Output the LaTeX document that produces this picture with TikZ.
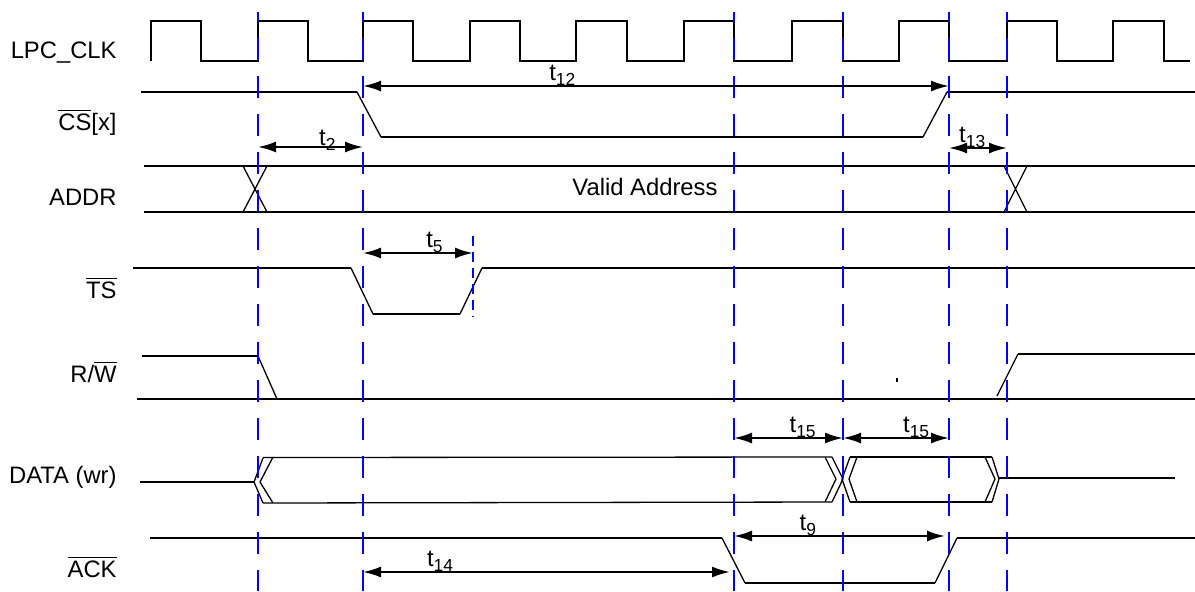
\documentclass[tikz,border=0pt]{standalone}
\usepackage{fontspec}
\setmainfont{Liberation Sans}
\usepackage{tikz}
\usetikzlibrary{arrows.meta}
\newcommand{\tsub}[1]{t\raisebox{-2.5pt}{\fontsize{8.7}{10}\selectfont #1}}

\begin{document}
\begin{tikzpicture}[x=0.5pt, y=-0.5pt, line join=miter,
    sig/.style = {line width=1pt},
    edge/.style = {line width=0.65pt},
    guide/.style = {blue, line width=1pt, dash pattern=on 11pt off 8pt, dash phase=6pt},
    span/.style = {line width=1pt, {Latex[length=9pt,width=5.5pt]}-{Latex[length=9pt,width=5.5pt]}},
    lbl/.style = {anchor=base east, inner sep=0pt, font=\fontsize{11.9}{14}\selectfont},
    tlbl/.style = {anchor=base, inner sep=0pt, yshift=3pt, font=\fontsize{11.9}{14}\selectfont}]

    \useasboundingbox (0, 0) rectangle (1195, 591);

    \node [lbl] (clk)  at (117, 58)  {LPC\_CLK};
    \node [lbl] (cs)   at (117, 130) {$\overline{\mbox{CS}}$[x]};
    \node [lbl] (addr) at (117, 205) {ADDR};
    \node [lbl] (ts)   at (117, 298) {$\overline{\mbox{TS}}$};
    \node [lbl] (rw)   at (117, 382) {R/$\overline{\mbox{W}}$};
    \node [lbl] (data) at (117, 483) {DATA (wr)};
    \node [lbl] (ack)  at (117, 577) {$\overline{\mbox{ACK}}$};
    \node [tlbl, yshift=-3pt] (valid) at (645, 195) {Valid Address};

    % clock
    \draw [sig] (151, 61) -- (151, 21) -- (201, 21) -- (201, 61) -- (258, 61) -- (258, 21) -- (308, 21) -- (308, 61)
        -- (363, 61) -- (363, 21) -- (413, 21) -- (413, 61) -- (470, 61) -- (470, 21) -- (520, 21) -- (520, 61)
        -- (576, 61) -- (576, 21) -- (627, 21) -- (627, 61) -- (684, 61) -- (684, 21) -- (734, 21) -- (734, 61)
        -- (792, 61) -- (792, 21) -- (843, 21) -- (843, 61) -- (899, 61) -- (899, 21) -- (949, 21) -- (949, 61)
        -- (1007, 61) -- (1007, 21) -- (1057, 21) -- (1057, 61) -- (1113, 61) -- (1113, 21) -- (1164, 21) -- (1164, 61)
        -- (1190, 61);

    % signals
    \draw [sig] (141, 92) -- (357, 92);
    \draw [edge] (357, 92) -- (381, 137);
    \draw [sig] (381, 137) -- (923, 137);
    \draw [edge] (923, 137) -- (947, 92);
    \draw [sig] (947, 92) -- (1195, 92);

    \draw [sig] (144, 166) -- (1195, 166);
    \draw [sig] (144, 212) -- (1195, 212);
    \draw [edge] (243, 166) -- (267, 212) (243, 212) -- (267, 166);
    \draw [edge] (1004, 166) -- (1027, 212) (1004, 212) -- (1027, 166);

    \draw [sig] (133, 268) -- (351, 268);
    \draw [edge] (351, 268) -- (373, 314);
    \draw [sig] (373, 314) -- (460, 314);
    \draw [edge] (460, 314) -- (482, 268);
    \draw [sig] (482, 268) -- (1195, 268);

    \draw [sig] (142, 356) -- (258, 356);
    \draw [edge] (258, 356) -- (277, 399);
    \draw [sig] (137, 399) -- (1195, 399);
    \draw [edge] (997, 396) -- (1018, 354);
    \draw [sig] (1018, 354) -- (1195, 354);
    \fill (896, 378) rectangle (898, 382);

    \draw [sig] (140, 482) -- (254, 482);
    \draw [edge] (263, 458) -- (254, 482) -- (263, 503);
    \draw [edge] (273, 457) -- (260, 482) -- (273, 503);
    \draw [edge] (263, 457.5) -- (832, 457) (263, 503) -- (832, 502);
    \draw [edge] (825, 457) -- (836, 479) -- (825, 502);
    \draw [edge] (832, 457) -- (843, 479) -- (832, 502);
    \draw [edge] (850, 457) -- (842, 479) -- (850, 502);
    \draw [edge] (857, 457) -- (849, 479) -- (857, 502);
    \draw [edge] (850, 457) -- (992, 457) (850, 502) -- (992, 502);
    \draw [edge] (985, 457) -- (995, 479) -- (985, 502);
    \draw [edge] (992, 457) -- (999, 479) -- (992, 502);
    \draw [sig] (999, 478) -- (1175, 478);

    \draw [sig] (150, 538) -- (722, 538);
    \draw [edge] (722, 538) -- (745, 583);
    \draw [sig] (745, 583) -- (935, 583);
    \draw [edge] (935, 583) -- (957, 538);
    \draw [sig] (957, 538) -- (1195, 538);

    % guides
    \draw [guide] (258, 12) -- (258, 591);
    \draw [guide] (363, 12) -- (363, 591);
    \draw [guide] (734, 12) -- (734, 591);
    \draw [guide] (843, 12) -- (843, 591);
    \draw [guide] (949, 12) -- (949, 591);
    \draw [guide] (1007, 12) -- (1007, 591);
    \draw [blue, line width=0.7pt, dash pattern=on 5pt off 3pt] (473, 236) -- (473, 317);

    % timings
    \coordinate (a12) at (363, 86);  \coordinate (b12) at (949, 86);
    \coordinate (a2)  at (258, 147); \coordinate (b2)  at (363, 147);
    \coordinate (a13) at (949, 148); \coordinate (b13) at (1007, 148);
    \coordinate (a5)  at (363, 253); \coordinate (b5)  at (473, 253);
    \coordinate (a15) at (734, 438); \coordinate (b15) at (843, 438); \coordinate (c15) at (949, 438);
    \coordinate (a9)  at (734, 536); \coordinate (b9)  at (945, 536);
    \coordinate (a14) at (363, 572); \coordinate (b14) at (730, 572);

    \draw [span] (a12) -- node[pos=0.34, tlbl] {\tsub{12}} (b12);
    \draw [span] (a2)  -- node[pos=0.66, tlbl, yshift=-2pt] {\tsub{2}} (b2);
    \draw [span] (a13) -- node[pos=0.40, tlbl] {\tsub{13}} (b13);
    \draw [span] (a5)  -- node[pos=0.65, tlbl] {\tsub{5}} (b5);
    \draw [span] (a15) -- node[pos=0.63, tlbl] {\tsub{15}} (b15);
    \draw [span] (b15) -- node[pos=0.69, tlbl] {\tsub{15}} (c15);
    \draw [span] (a9)  -- node[pos=0.35, tlbl] {\tsub{9}} (b9);
    \draw [span] (a14) -- node[pos=0.21, tlbl] {\tsub{14}} (b14);

\end{tikzpicture}
\end{document}
